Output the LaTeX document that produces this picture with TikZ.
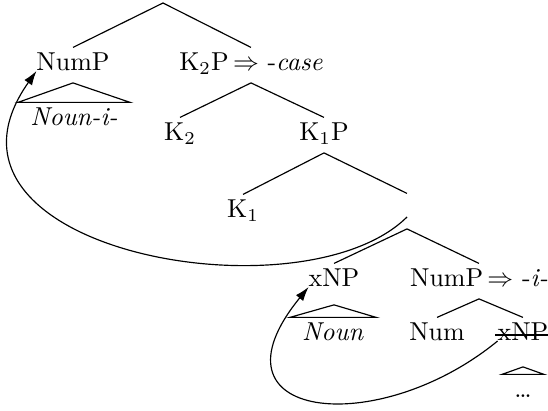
\documentclass[tikz,border=0pt]{standalone}
\usepackage{amsmath}
\usepackage{tikz}
\usetikzlibrary{arrows.meta, calc}
\tikzset{
  lab/.style={inner sep=0pt, outer xsep=0pt, outer ysep=2.3pt,
              text height=6.8pt, text depth=2.3pt, anchor=base},
  branch/.style={line width=0.45pt},
  move/.style={-{Latex[length=5.5pt,width=3.6pt]}, line width=0.45pt}
}
\newcommand{\roof}[3]{%  \roof{mother}{text below}{apex drop}
  \draw[branch] ([yshift=-#3]#1.south) -- ([xshift=-4.8pt]#2.north west)
     -- ([xshift=4.8pt]#2.north east) -- cycle;}

\begin{document}
\begin{tikzpicture}[x=0.386pt, y=-0.386pt]
    \useasboundingbox (0,0) rectangle (548,411);
    % ── Top: root, NumP, K2P
    \coordinate (root) at (163,3);
    \node[lab] (nump)  at (73,71)  {NumP};
    \node[lab] (k2p)   at (251,71) {K$_2$P\,$\Rightarrow$ -\textit{case}};
    \node[lab] (nouni) at (74,126) {\textit{Noun-i-}};
    \draw[branch] (root) -- (nump.north);
    \draw[branch] (root) -- (k2p.north);
    \roof{nump}{nouni}{0pt}
    % ── K2, K1P, K1 and the empty node
    \node[lab] (k2)  at (180,141) {K$_2$};
    \node[lab] (k1p) at (324,141) {K$_1$P};
    \node[lab] (k1)  at (243,218) {K$_1$};
    \node[lab] (e)   at (407,217) {};
    \draw[branch] (k2p.south) -- (k2.north);
    \draw[branch] (k2p.south) -- (k1p.north);
    \draw[branch] (k1p.south) -- (k1.north);
    \draw[branch] (k1p.south) -- (e.north);
    % ── Bottom: xNP, NumP => -i-
    \node[lab] (xnp)   at (334,287) {xNP};
    \node[lab] (nump2) at (479,287) {NumP\,$\Rightarrow$ -\textit{i-}};
    \node[lab] (noun)  at (333,341) {\textit{Noun}};
    \node[lab] (num)   at (437,341) {Num};
    \node[lab] (xnpt)  at (523,341) {xNP};
    \node[lab] (dots)  at (523,398) {\dots};
    \draw[branch] (e.south) -- (xnp.north);
    \draw[branch] (e.south) -- (nump2.north);
    \draw[branch] (nump2.south) -- (num.north);
    \draw[branch] (nump2.south) -- (xnpt.north);
    \roof{xnp}{noun}{2.3pt}
    \roof{xnpt}{dots}{5.4pt}
    \draw[line width=0.7pt] ([xshift=-1pt,yshift=2.4pt]xnpt.base west)
       -- ([xshift=0.5pt,yshift=2.4pt]xnpt.base east);
    % ── Movement arrows
    \draw[move] (e.base) .. controls (302,321) and (-90,250) .. (nump.base west);
    \draw[move] (xnpt.base west) .. controls (377,440) and (200,420) .. (xnp.base west);
\end{tikzpicture}
\end{document}
